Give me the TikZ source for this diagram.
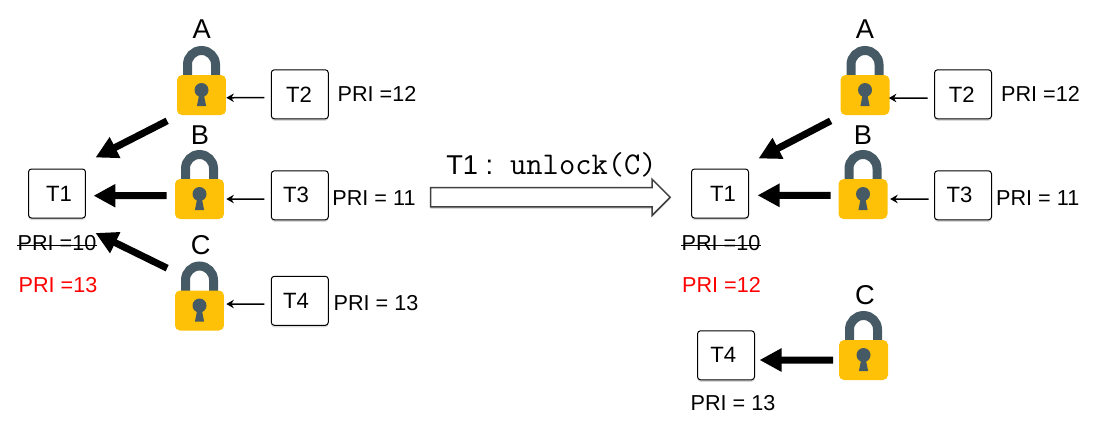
\documentclass[tikz,border=0pt]{standalone}
\usepackage{fontspec}
\setmainfont{Liberation Sans}
\usetikzlibrary{arrows.meta,shapes.arrows,shadows}

\definecolor{lockgold}{HTML}{FFC107}
\definecolor{lockslate}{HTML}{455A64}

\tikzset{
  task node/.style={draw,fill=white,rounded corners=0.6mm,line width=0.2mm,minimum width=11.4mm,minimum height=9.8mm,inner sep=0pt,
    font=\fontsize{12.6}{14}\selectfont,drop shadow={shadow xshift=0mm,shadow yshift=-0.4mm,opacity=0.3}},
  lock node/.style={fill=lockgold,rounded corners=1mm,minimum width=9.8mm,minimum height=8mm,inner sep=0pt},
  lock name/.style={inner sep=0pt,font=\fontsize{15.5}{17}\selectfont},
  pri node/.style={inner sep=0pt,font=\fontsize{12.3}{14}\selectfont},
  heavy edge/.style={-{Triangle[length=4.4mm,width=4.4mm]},line width=1.4mm},
  thin edge/.style={-{Stealth[length=1.5mm,width=1.7mm]},line width=0.3mm}
}

% lock body at (x,y), with its shackle and key hole
\newcommand{\padlock}[3]{
  \draw[lockslate,line width=1.8mm] (#2-14,#3-18) -- (#2-14,#3-30.5) arc (180:360:14) -- (#2+14,#3-18);
  \node[lock node] (#1) at (#2,#3) {};
  \fill[lockslate] (#2,#3-5) circle (7);
  \fill[lockslate] (#2-2,#3-2) -- (#2+2,#3-2) -- (#2+4.6,#3+11) -- (#2-4.6,#3+11) -- cycle;
}

\begin{document}
\begin{tikzpicture}[x=0.02cm,y=-0.02cm]
  \useasboundingbox (0,0) rectangle (1101,441);

  % before the unlock
  \padlock{lockAl}{201.5}{95}
  \padlock{lockBl}{199.5}{199}
  \padlock{lockCl}{199.5}{310.5}
  \node[lock name] (nameAl) at (201.7,29) {A};
  \node[lock name] (nameBl) at (200,135) {B};
  \node[lock name] (nameCl) at (200.7,245) {C};

  \node[task node] (T1l) at (57,193.5) {\kern0.8mm T1};
  \node[task node] (T2l) at (299.8,94.3) {T2\kern0.3mm};
  \node[task node] (T3l) at (299.8,195.3) {T3\kern1.5mm};
  \node[task node] (T4l) at (299.8,300.8) {T4\kern1.5mm};

  \node[pri node] (pri2l) at (377,94) {PRI =12};
  \node[pri node] (pri3l) at (374,198) {PRI = 11};
  \node[pri node] (pri4l) at (376,303) {PRI = 13};
  \node[pri node] (oldl) at (57,243) {PRI =10};
  \node[pri node,red] (newl) at (58,285) {PRI =13};
  \draw[line width=0.3mm] ([yshift=-0.5mm]oldl.west) -- ([yshift=-0.5mm]oldl.east);

  \path[heavy edge]
    ([xshift=-1.9mm,yshift=-1.1mm]lockAl.south west) edge ([xshift=1.9mm,yshift=2.2mm]T1l.north east)
    ([xshift=-1.6mm,yshift=0.66mm]lockBl.west) edge ([xshift=1.5mm,yshift=-0.44mm]T1l.east)
    ([xshift=-1.5mm,yshift=4.4mm]lockCl.north west) edge ([xshift=1.9mm,yshift=-2.9mm]T1l.south east);

  \path[thin edge]
    ([xshift=-1.3mm,yshift=-0.68mm]T2l.west) edge ([yshift=-0.55mm]lockAl.east)
    ([xshift=-1.3mm,yshift=-0.75mm]T3l.west) edge ([xshift=0.4mm]lockBl.east)
    ([xshift=-1.3mm,yshift=-0.64mm]T4l.west) edge ([xshift=0.4mm,yshift=1.3mm]lockCl.east);

  % the unlock
  \node[single arrow,draw=black!75,fill=white,line width=0.3mm,inner sep=0pt,minimum height=47.9mm,
    single arrow head extend=1.7mm,single arrow head indent=0mm,
    drop shadow={shadow xshift=0mm,shadow yshift=-0.4mm,opacity=0.3}] (unlockarrow) at (545.6,197.3) {\rule{0pt}{3.54mm}};
  \node[inner sep=0pt] (unlocktext) at (551.5,164.5) {\fontsize{15.5}{18}\selectfont T1 :\hspace{3.4mm}{\ttfamily\fontsize{18}{20}\selectfont unlock(C)}};

  % after the unlock
  \padlock{lockAr}{865}{95}
  \padlock{lockBr}{863}{199}
  \padlock{lockCr}{863.5}{360}
  \node[lock name] (nameAr) at (865,29) {A};
  \node[lock name] (nameBr) at (863,135) {B};
  \node[lock name] (nameCr) at (865,295) {C};

  \node[task node] (T1r) at (720,193.5) {\kern1.2mm T1};
  \node[task node] (T2r) at (963,94.3) {T2\kern0.5mm};
  \node[task node] (T3r) at (963,195.3) {T3\kern1.4mm};
  \node[task node] (T4r) at (726,355.3) {T4\kern1.1mm};

  \node[pri node] (pri2r) at (1040.5,94) {PRI =12};
  \node[pri node] (pri3r) at (1037.7,198) {PRI = 11};
  \node[pri node] (pri4r) at (733,403) {PRI = 13};
  \node[pri node] (oldr) at (721,243) {PRI =10};
  \node[pri node,red] (newr) at (721.5,285) {PRI =12};
  \draw[line width=0.3mm] ([yshift=-0.5mm]oldr.west) -- ([yshift=-0.5mm]oldr.east);

  \path[heavy edge]
    ([xshift=-1.9mm,yshift=-1.1mm]lockAr.south west) edge ([xshift=1.9mm,yshift=2mm]T1r.north east)
    ([xshift=-1.5mm,yshift=0.74mm]lockBr.west) edge ([xshift=1.7mm,yshift=-0.36mm]T1r.east)
    ([xshift=-1.1mm]lockCr.west) edge ([xshift=0.9mm,yshift=-0.94mm]T4r.east);

  \path[thin edge]
    ([xshift=-1.3mm,yshift=-0.74mm]T2r.west) edge ([xshift=-0.2mm,yshift=-0.6mm]lockAr.east)
    ([xshift=-1.06mm,yshift=-0.74mm]T3r.west) edge ([xshift=0.46mm]lockBr.east);
\end{tikzpicture}
\end{document}
